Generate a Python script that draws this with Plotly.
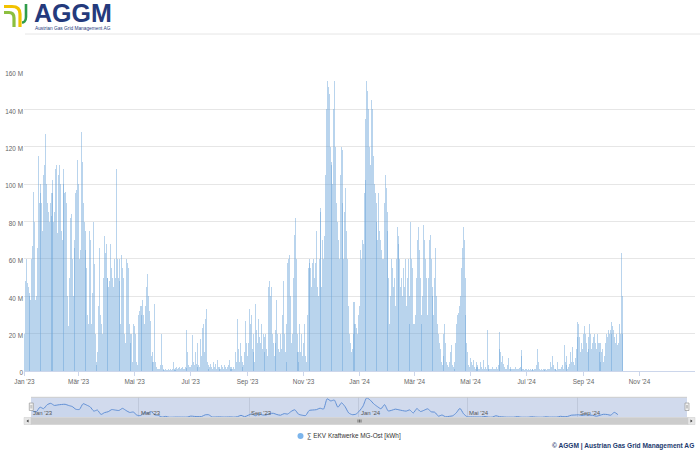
import pandas as pd
import plotly.graph_objects as go

# ---------------- data (daily values, million kWh) ----------------
jan_2023 = [20, 48, 60, 47, 45, 42, 40, 38, 60, 67, 96, 80, 38, 40, 66, 115, 90, 100, 95, 90, 75, 105, 110, 127, 100, 90, 85, 80, 90, 83, 95]
feb_2023 = [102, 80, 85, 108, 110, 74, 105, 110, 100, 75, 70, 108, 100, 95, 96, 90, 40, 24, 50, 82, 84, 60, 40, 66, 70, 95, 97, 113]
mar_2023 = [100, 60, 65, 128, 112, 90, 80, 75, 65, 55, 30, 25, 75, 70, 25, 42, 80, 57, 20, 5, 3, 10, 35, 66, 30, 25, 20, 50, 72, 63, 68]
apr_2023 = [50, 50, 45, 48, 68, 55, 50, 45, 60, 50, 108, 60, 50, 48, 60, 25, 62, 55, 50, 20, 15, 60, 58, 55, 25, 20, 15, 20, 5, 25]
may_2023 = [24, 20, 5, 3, 30, 32, 35, 35, 30, 38, 30, 25, 35, 45, 52, 40, 32, 27, 8, 5, 10, 5, 36, 5, 2, 1, 1, 1, 3, 20, 3]
jun_2023 = [1, 0.5, 0.5, 1, 0.5, 0.5, 1, 0.8, 1, 0.5, 1, 5, 1, 0.8, 1.5, 2, 1, 1.5, 2, 1, 1.5, 2, 1, 1, 2, 1.5, 22, 10, 3, 2]
jul_2023 = [2, 3, 19, 5, 3, 10, 4, 2, 15, 3, 2, 17, 8, 23, 25, 10, 28, 33, 5, 3, 1, 2, 4, 2, 1, 5, 2, 4, 1, 6, 2]
aug_2023 = [1, 2, 1, 3, 2, 1, 3, 2, 1, 2, 3, 6, 1, 2, 1, 1, 2, 1, 10, 5, 28, 12, 5, 15, 8, 5, 2, 3, 10, 27, 15]
sep_2023 = [8, 15, 33, 25, 30, 12, 20, 10, 5, 36, 22, 15, 28, 18, 15, 25, 12, 20, 18, 10, 20, 12, 8, 45, 48, 40, 45, 20, 15, 8]
oct_2023 = [15, 22, 38, 20, 12, 10, 20, 12, 30, 48, 20, 10, 5, 25, 58, 60, 62, 40, 15, 20, 50, 73, 82, 60, 20, 10, 5, 25, 10, 20, 8]
nov_2023 = [15, 25, 8, 5, 30, 55, 58, 60, 55, 45, 58, 60, 50, 58, 75, 45, 40, 60, 85, 87, 45, 70, 60, 72, 105, 140, 155, 152, 148, 120]
dec_2023 = [112, 110, 100, 140, 155, 120, 90, 80, 70, 60, 105, 120, 118, 90, 60, 85, 98, 75, 60, 35, 20, 15, 10, 12, 20, 37, 25, 25, 23, 20, 30]
jan_2024 = [35, 65, 60, 70, 68, 95, 102, 135, 155, 150, 140, 120, 110, 145, 140, 115, 100, 95, 90, 80, 70, 95, 75, 70, 65, 60, 60, 90, 105, 98, 85]
feb_2024 = [75, 50, 25, 40, 60, 55, 45, 50, 35, 60, 77, 72, 68, 60, 45, 50, 40, 55, 45, 60, 35, 50, 60, 40, 25, 80, 60, 55, 25]
mar_2024 = [25, 30, 50, 70, 77, 65, 50, 30, 25, 40, 78, 70, 60, 50, 30, 50, 70, 73, 60, 40, 45, 30, 50, 66, 40, 25, 20, 15, 12, 5, 3]
apr_2024 = [8, 20, 25, 15, 5, 3, 2, 5, 10, 14, 3, 2, 1, 5, 15, 25, 30, 31, 35, 40, 55, 66, 77, 70, 50, 30, 15, 10, 3, 2]
may_2024 = [7, 5, 3, 6, 2, 1, 5, 2, 3, 1, 1, 5, 2, 1, 6, 1, 2, 1, 22, 3, 1, 1, 1, 1, 2, 1, 1, 1, 2, 1, 3]
jun_2024 = [21, 12, 10, 5, 8, 4, 2, 1, 1, 3, 7, 1, 1, 2, 1, 1, 1, 1, 2, 1, 1, 1, 1.5, 2, 11, 8, 1, 1, 0.5, 1]
jul_2024 = [1, 0.5, 1, 0.5, 1, 0.5, 1, 1, 0.5, 1, 1, 3, 12, 5, 1, 0.5, 1, 0.5, 1, 1, 0.5, 1, 0.5, 1, 1, 1, 5, 2, 8, 3, 1]
aug_2024 = [1, 1, 0.5, 5, 1, 1, 1, 2, 3, 1, 14, 5, 8, 3, 1, 2, 4, 10, 5, 13, 5, 3, 7, 12, 18, 26, 25, 18, 10, 15, 12]
sep_2024 = [20, 24, 20, 15, 10, 18, 12, 25, 20, 12, 15, 18, 20, 15, 12, 20, 15, 10, 15, 5, 10, 12, 5, 8, 15, 20, 18, 22, 20, 22]
oct_2024 = [26, 20, 24, 22, 18, 15, 20, 14, 15, 25, 20, 63, 40, 20]

month_starts = ["2023-01-01", "2023-02-01", "2023-03-01", "2023-04-01", "2023-05-01", "2023-06-01",
                "2023-07-01", "2023-08-01", "2023-09-01", "2023-10-01", "2023-11-01", "2023-12-01",
                "2024-01-01", "2024-02-01", "2024-03-01", "2024-04-01", "2024-05-01", "2024-06-01",
                "2024-07-01", "2024-08-01", "2024-09-01", "2024-10-01"]
monthly_values = [jan_2023, feb_2023, mar_2023, apr_2023, may_2023, jun_2023, jul_2023, aug_2023,
                  sep_2023, oct_2023, nov_2023, dec_2023, jan_2024, feb_2024, mar_2024, apr_2024,
                  may_2024, jun_2024, jul_2024, aug_2024, sep_2024, oct_2024]

x_tick_dates = ["2023-01-01", "2023-03-01", "2023-05-01", "2023-07-01", "2023-09-01", "2023-11-01",
                "2024-01-01", "2024-03-01", "2024-05-01", "2024-07-01", "2024-09-01", "2024-11-01"]
x_tick_text = ["Jan '23", "Mär '23", "Mai '23", "Jul '23", "Sep '23", "Nov '23",
               "Jan '24", "Mär '24", "Mai '24", "Jul '24", "Sep '24", "Nov '24"]
y_tick_vals = [0, 20, 40, 60, 80, 100, 120, 140, 160]
y_tick_text = ["0", "20 M", "40 M", "60 M", "80 M", "100 M", "120 M", "140 M", "160 M"]
nav_tick_dates = ["2023-01-01", "2023-05-01", "2023-09-01", "2024-01-01", "2024-05-01", "2024-09-01"]
nav_tick_text = ["Jan '23", "Mai '23", "Sep '23", "Jan '24", "Mai '24", "Sep '24"]
series_name = "∑ EKV Kraftwerke MG-Ost [kWh]"
credit_text = "© AGGM | Austrian Gas Grid Management AG"

# ---------------- build series ----------------
dates, values = [], []
for start, vals in zip(month_starts, monthly_values):
    d0 = pd.Timestamp(start)
    for i, v in enumerate(vals):
        dates.append(d0 + pd.Timedelta(days=i))
        values.append(v)
series = pd.Series(values, index=pd.DatetimeIndex(dates))
nav = series.resample("4D").mean()
nav_x = nav.index + pd.Timedelta(days=2)

W, H = 700, 450
ML, MR, MT, MB = 24, 5, 72, 25
PW, PH = W - ML - MR, H - MT - MB


def X(px):
    return (px - ML) / PW


def Y(py):
    return (H - MB - py) / PH


FONT = "Liberation Sans, Arial, sans-serif"
NAVY = "#243a7c"

fig = go.Figure()
fig.add_trace(go.Bar(
    x=series.index, y=series.values, name=series_name,
    width=1.1 * 86400000,
    marker=dict(color="rgba(100,160,215,0.45)", line=dict(width=0)),
    showlegend=False, xaxis="x", yaxis="y",
))
fig.add_trace(go.Scatter(
    x=nav_x, y=nav.values, mode="lines",
    line=dict(color="#5f95dc", width=1, shape="spline", smoothing=0.6),
    fill="tozeroy", fillcolor="rgba(124,181,236,0.08)",
    showlegend=False, hoverinfo="skip", xaxis="x2", yaxis="y2",
))

shapes = []
# header separator
shapes.append(dict(type="line", xref="paper", yref="paper", x0=X(25), x1=X(700), y0=Y(34), y1=Y(34),
                   line=dict(color="#e6e6e6", width=1)))
# navigator mask + outline
shapes.append(dict(type="rect", xref="x2 domain", yref="y2 domain", x0=0, x1=1, y0=0, y1=1,
                   fillcolor="rgba(102,133,194,0.3)", line=dict(width=0), layer="above"))
shapes.append(dict(type="line", xref="x2 domain", yref="y2 domain", x0=0, x1=1, y0=1, y1=1,
                   line=dict(color="#cccccc", width=1), layer="above"))
# scrollbar
sy0, sy1 = 417.5, 424.5
shapes.append(dict(type="rect", xref="paper", yref="paper", x0=X(24), x1=X(695), y0=Y(sy1), y1=Y(sy0),
                   fillcolor="#f2f2f2", line=dict(width=0)))
shapes.append(dict(type="rect", xref="paper", yref="paper", x0=X(31), x1=X(688), y0=Y(sy1), y1=Y(sy0),
                   fillcolor="#cccccc", line=dict(color="#cccccc", width=0.5)))
for bx0, bx1 in [(24, 31), (688, 695)]:
    shapes.append(dict(type="rect", xref="paper", yref="paper", x0=X(bx0), x1=X(bx1), y0=Y(sy1), y1=Y(sy0),
                       fillcolor="#e6e6e6", line=dict(color="#cccccc", width=0.5)))
cy = (sy0 + sy1) / 2
shapes.append(dict(type="path", xref="paper", yref="paper",
                   path=f"M {X(28.5)},{Y(cy-1.5)} L {X(28.5)},{Y(cy+1.5)} L {X(26.5)},{Y(cy)} Z",
                   fillcolor="#333333", line=dict(width=0)))
shapes.append(dict(type="path", xref="paper", yref="paper",
                   path=f"M {X(690.5)},{Y(cy-1.5)} L {X(690.5)},{Y(cy+1.5)} L {X(692.5)},{Y(cy)} Z",
                   fillcolor="#333333", line=dict(width=0)))
for gx in [358, 359.5, 361]:
    shapes.append(dict(type="line", xref="paper", yref="paper", x0=X(gx), x1=X(gx), y0=Y(cy - 1.5),
                       y1=Y(cy + 1.5), line=dict(color="#333333", width=0.6)))
# navigator handles
for hx in [29.3, 685]:
    shapes.append(dict(type="rect", xref="paper", yref="paper", x0=X(hx), x1=X(hx + 4), y0=Y(410.5), y1=Y(403),
                       fillcolor="#f2f2f2", line=dict(color="#999999", width=0.7), layer="above"))
    for lx in [hx + 1.5, hx + 2.5]:
        shapes.append(dict(type="line", xref="paper", yref="paper", x0=X(lx), x1=X(lx), y0=Y(408.5),
                           y1=Y(405), line=dict(color="#999999", width=0.5), layer="above"))
# legend marker
shapes.append(dict(type="circle", xref="paper", yref="paper", x0=X(297.5), x1=X(303.5), y0=Y(439), y1=Y(433),
                   fillcolor="#7cb5ec", line=dict(width=0)))
# logo icon
shapes.append(dict(type="path", xref="paper", yref="paper",
                   path=(f"M {X(4)},{Y(6.5)} L {X(12)},{Y(6.5)} C {X(17)},{Y(6.5)} {X(20)},{Y(9)} {X(20)},{Y(14)} "
                         f"L {X(20)},{Y(27)}"),
                   line=dict(color="#f2c200", width=3.2)))
shapes.append(dict(type="path", xref="paper", yref="paper",
                   path=(f"M {X(4)},{Y(12.5)} L {X(9)},{Y(12.5)} C {X(12.5)},{Y(12.5)} {X(14)},{Y(14.5)} {X(14)},{Y(18)} "
                         f"L {X(14)},{Y(27)}"),
                   line=dict(color="#8cbf3f", width=3.2)))
shapes.append(dict(type="path", xref="paper", yref="paper",
                   path=(f"M {X(26)},{Y(4)} L {X(26)},{Y(17)} C {X(26)},{Y(21)} {X(23.5)},{Y(22.5)} {X(22)},{Y(22.5)}"),
                   line=dict(color="#2f9c4a", width=2.6)))

annotations = [
    dict(text="<b>AGGM</b>", xref="paper", yref="paper", x=X(32), y=Y(13), xanchor="left", yanchor="middle",
         showarrow=False, font=dict(family=FONT, size=25, color=NAVY)),
    dict(text="Austrian Gas Grid Management AG", xref="paper", yref="paper", x=X(32.5), y=Y(28),
         xanchor="left", yanchor="middle", showarrow=False, font=dict(family=FONT, size=4.8, color=NAVY)),
    dict(text=series_name, xref="paper", yref="paper", x=X(305), y=Y(436), xanchor="left", yanchor="middle",
         showarrow=False, font=dict(family=FONT, size=6.4, color="#333333")),
    dict(text="<b>" + credit_text + "</b>", xref="paper", yref="paper", x=X(696), y=Y(445.5), xanchor="right",
         yanchor="middle", showarrow=False, font=dict(family=FONT, size=6.6, color="#1c3a6e")),
]
# navigator axis labels (placed inside the navigator, right of each grid line)
for d, t in zip(nav_tick_dates, nav_tick_text):
    annotations.append(dict(text=t, xref="x2", yref="paper", x=d, y=Y(413), xanchor="left", yanchor="middle",
                            xshift=0, showarrow=False, font=dict(family=FONT, size=6, color="#555555")))

fig.update_layout(
    width=W, height=H,
    margin=dict(l=ML, r=MR, t=MT, b=MB, autoexpand=False),
    paper_bgcolor="white", plot_bgcolor="rgba(0,0,0,0)",
    bargap=0, showlegend=False,
    font=dict(family=FONT, size=6.4, color="#666666"),
    xaxis=dict(domain=[0, 1], anchor="y", type="date", automargin=False,
               range=["2022-12-31 12:00", "2024-12-31 12:00"],
               tickmode="array", tickvals=x_tick_dates, ticktext=x_tick_text,
               ticks="outside", ticklen=4, tickcolor="#ccd6eb",
               showline=True, linecolor="#ccd6eb", linewidth=1,
               showgrid=False, zeroline=False,
               tickfont=dict(family=FONT, size=6.4, color="#666666")),
    yaxis=dict(domain=[Y(371), 1], anchor="x", range=[0, 160], automargin=False,
               tickmode="array", tickvals=y_tick_vals, ticktext=y_tick_text,
               gridcolor="#e6e6e6", gridwidth=1, zeroline=False, showline=False,
               ticklabelshift=2,
               tickfont=dict(family=FONT, size=6.4, color="#666666")),
    xaxis2=dict(domain=[X(31), X(687)], anchor="y2", type="date", automargin=False,
                range=["2023-01-01", "2025-01-01"],
                tickmode="array", tickvals=nav_tick_dates, showticklabels=False, ticks="",
                showgrid=True, gridcolor="#e6e6e6", gridwidth=1,
                showline=False, zeroline=False),
    yaxis2=dict(domain=[Y(417.3), Y(397.3)], anchor="x2", automargin=False,
                range=[0, float(nav.max()) * 1.03], visible=False, fixedrange=True),
    shapes=shapes,
    annotations=annotations,
)

fig.write_html("out.html", config={"displayModeBar": False},
               post_script="document.body.style.margin='0px';document.body.style.padding='0px';")
